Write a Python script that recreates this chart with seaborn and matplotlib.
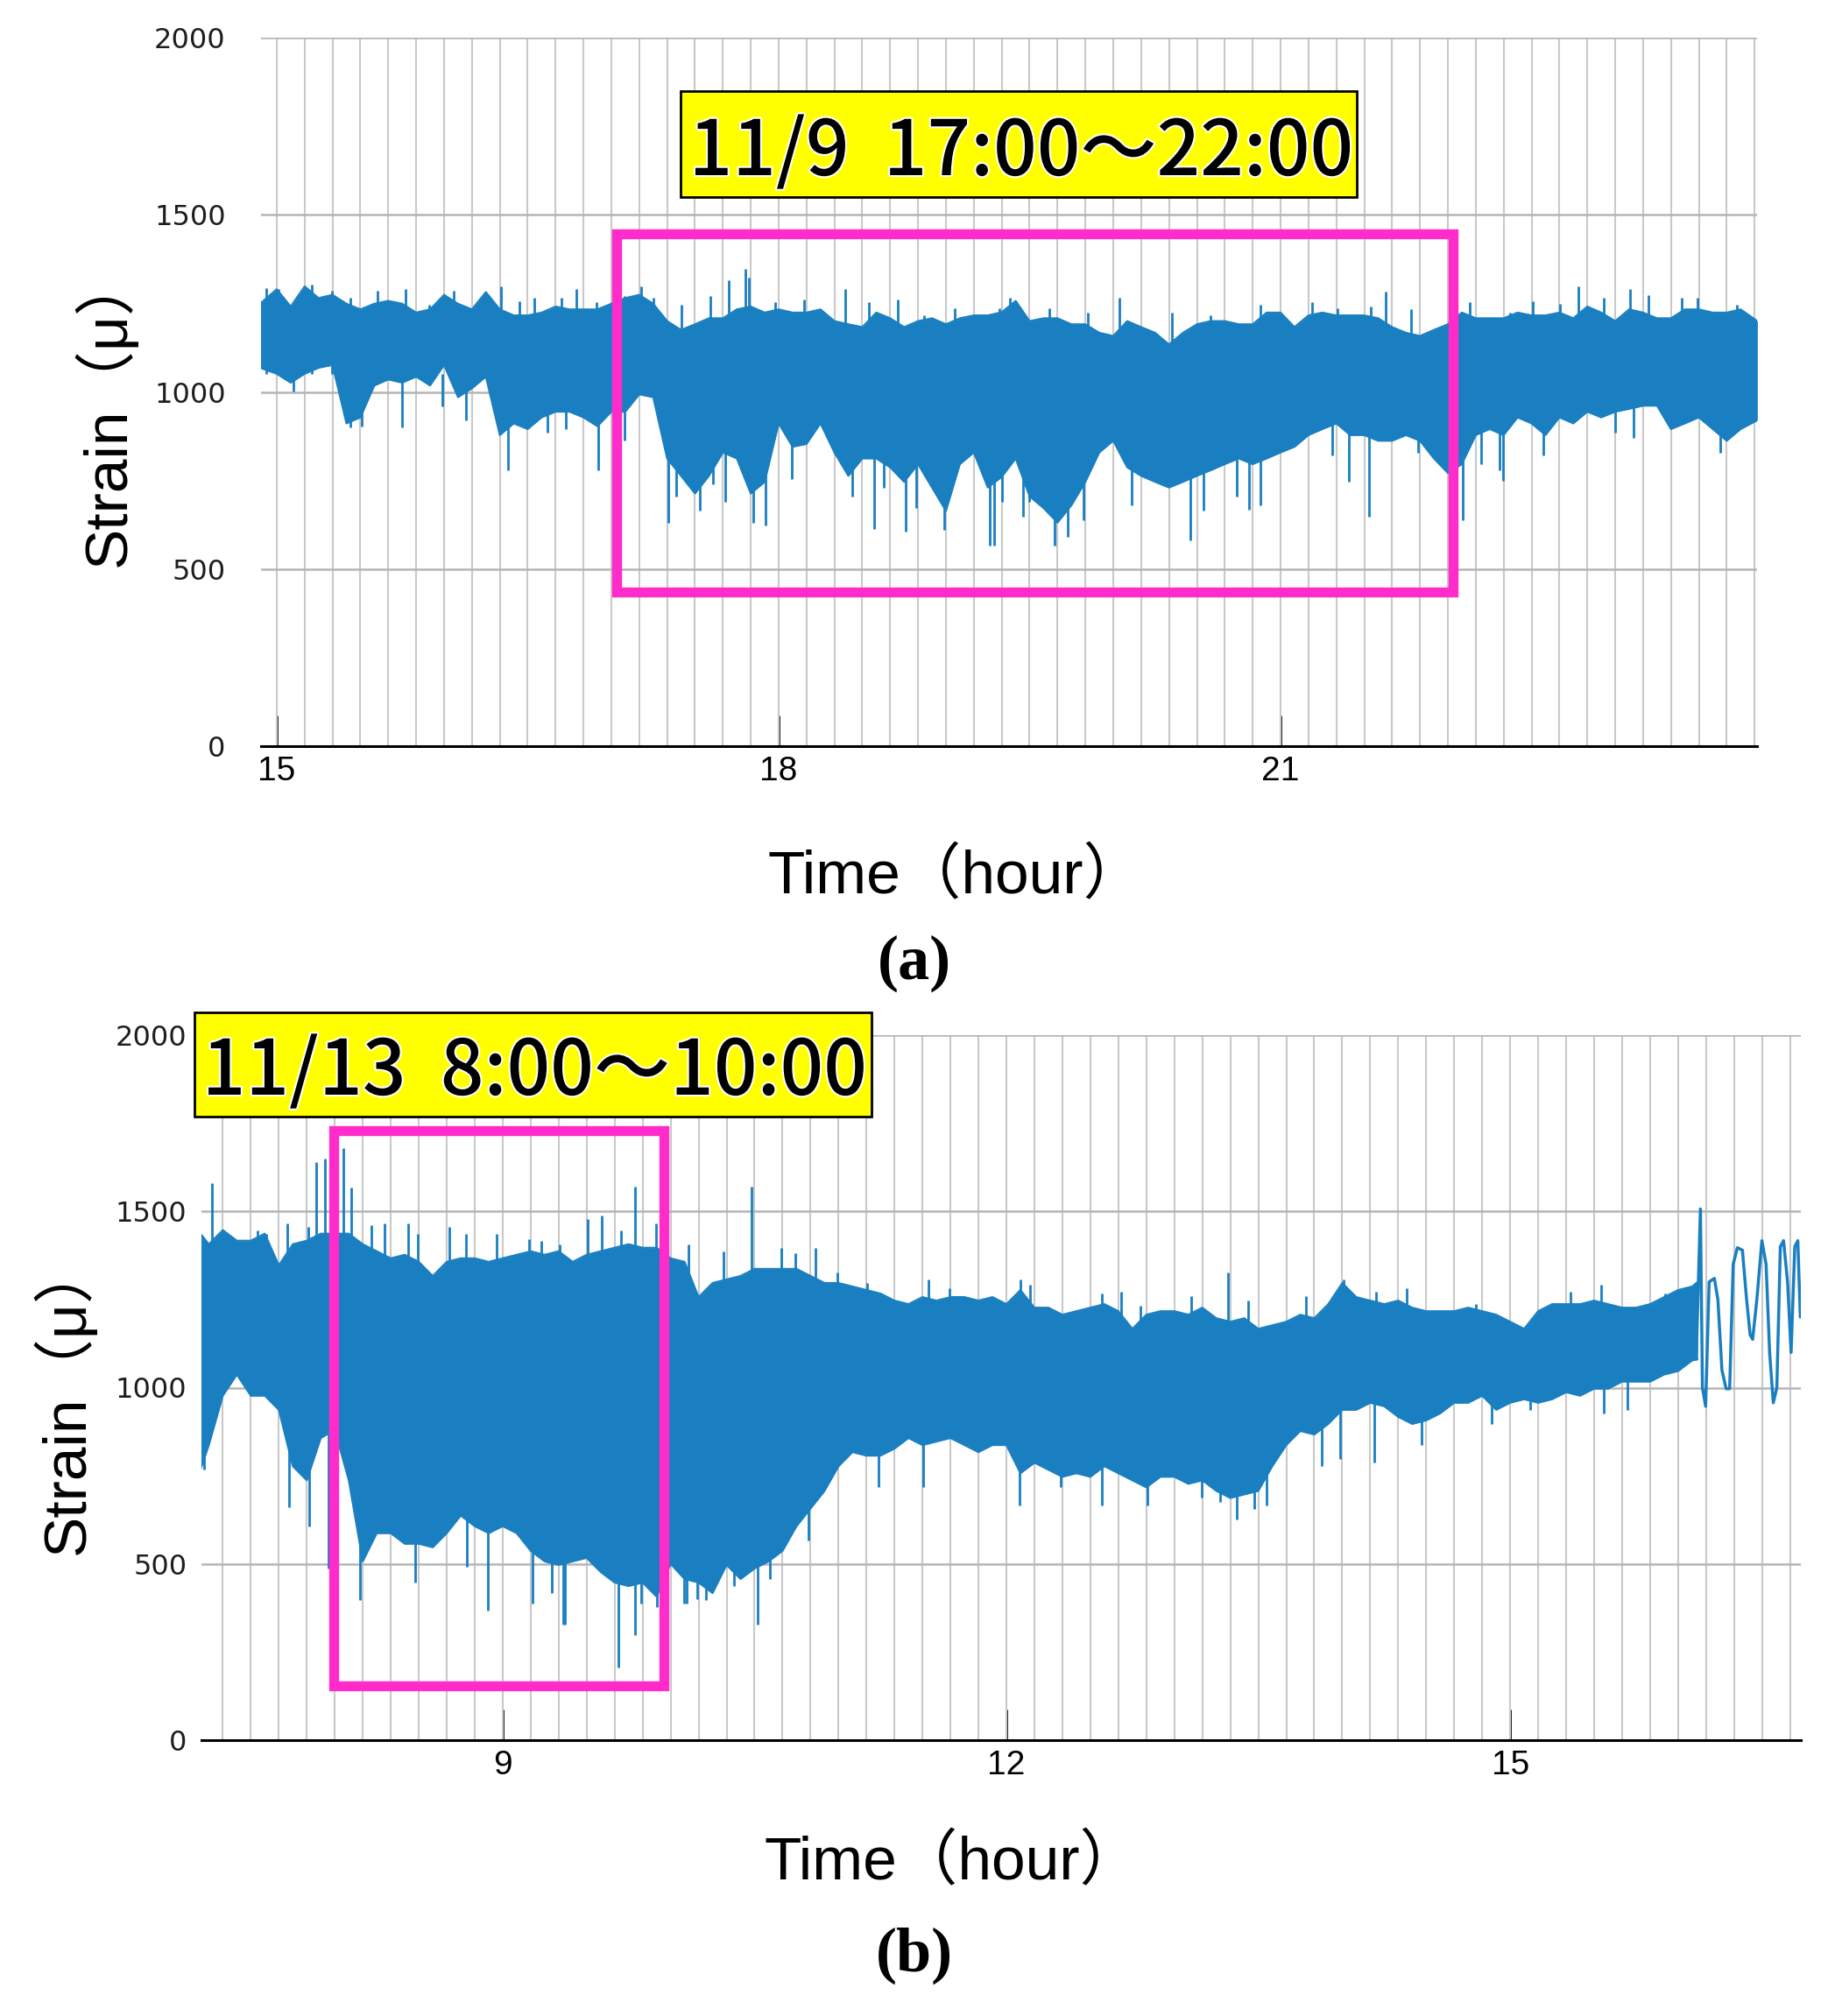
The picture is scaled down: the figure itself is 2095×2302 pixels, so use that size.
import matplotlib
matplotlib.use("Agg")
import numpy as np
import pandas as pd
import seaborn as sns
import matplotlib.pyplot as plt
from matplotlib.patches import Rectangle
import matplotlib.patheffects as pe

# ---------------- data ----------------
# Panel (a): 11/9, envelope of the strain record every 5 minutes
a_time = ["14:54", "15:00", "15:05", "15:10", "15:15", "15:20", "15:25", "15:30", "15:35", "15:40",
          "15:45", "15:50", "15:55", "16:00", "16:05", "16:10", "16:15", "16:20", "16:25", "16:30",
          "16:35", "16:40", "16:45", "16:50", "16:55", "17:00", "17:05", "17:10", "17:15", "17:20",
          "17:25", "17:30", "17:35", "17:40", "17:45", "17:50", "17:55", "18:00", "18:05", "18:10",
          "18:15", "18:20", "18:25", "18:30", "18:35", "18:40", "18:45", "18:50", "18:55", "19:00",
          "19:05", "19:10", "19:15", "19:20", "19:25", "19:30", "19:35", "19:40", "19:45", "19:50",
          "19:55", "20:00", "20:05", "20:10", "20:15", "20:20", "20:25", "20:30", "20:35", "20:40",
          "20:45", "20:50", "20:55", "21:00", "21:05", "21:10", "21:15", "21:20", "21:25", "21:30",
          "21:35", "21:40", "21:45", "21:50", "21:55", "22:00", "22:05", "22:10", "22:15", "22:20",
          "22:25", "22:30", "22:35", "22:40", "22:45", "22:50", "22:55", "23:00", "23:05", "23:10",
          "23:15", "23:20", "23:25", "23:30", "23:35", "23:40", "23:45", "23:51"]
a_upper = [1249, 1290, 1241, 1298, 1265, 1274, 1249, 1233, 1249, 1257,
           1249, 1224, 1233, 1274, 1249, 1233, 1282, 1233, 1216, 1216,
           1224, 1241, 1233, 1233, 1233, 1249, 1265, 1274, 1249, 1200,
           1175, 1191, 1208, 1208, 1233, 1241, 1224, 1233, 1224, 1224,
           1233, 1200, 1191, 1183, 1224, 1208, 1183, 1200, 1208, 1191,
           1208, 1216, 1216, 1225, 1257, 1200, 1208, 1208, 1191, 1191,
           1167, 1158, 1200, 1183, 1167, 1134, 1167, 1191, 1200, 1200,
           1191, 1191, 1224, 1224, 1183, 1216, 1224, 1216, 1216, 1216,
           1208, 1183, 1167, 1158, 1175, 1191, 1224, 1208, 1208, 1208,
           1224, 1216, 1216, 1224, 1208, 1241, 1224, 1200, 1233, 1224,
           1208, 1208, 1233, 1233, 1224, 1224, 1233, 1200]
a_lower = [1068, 1051, 1026, 1051, 1068, 1076, 911, 928, 1018, 1035,
           1026, 1043, 1018, 1076, 985, 1010, 1043, 878, 911, 895,
           928, 944, 944, 928, 903, 944, 944, 993, 985, 812,
           763, 713, 763, 829, 812, 713, 746, 911, 845, 853,
           911, 829, 763, 812, 812, 787, 746, 796, 730, 664,
           796, 829, 730, 760, 812, 705, 672, 631, 680, 746,
           829, 862, 787, 763, 746, 730, 746, 763, 779, 796,
           812, 796, 812, 829, 845, 878, 895, 911, 878, 878,
           862, 862, 878, 862, 812, 771, 796, 878, 895, 878,
           928, 911, 878, 928, 911, 944, 928, 944, 952, 961,
           961, 895, 911, 928, 895, 862, 895, 920]
# individual peaks (hour, strain) sticking out of the band
a_peak_t = [15.21, 16.34, 16.79, 17.70, 17.80, 17.82, 18.40, 18.71, 19.38, 21.63, 22.78, 23.09, 23.40,
            14.94, 15.01, 15.33, 15.44, 15.60, 15.77, 15.91, 16.06, 16.45, 16.54, 16.70, 16.91,
            17.08, 17.18, 17.25, 17.42, 17.59, 17.98, 18.15, 18.54, 18.87, 19.05, 19.32,
            19.62, 19.85, 20.035, 20.35, 20.58, 20.88, 21.19, 21.34, 21.54, 21.78, 22.13, 22.37,
            22.51, 22.67, 22.93, 23.20, 23.49, 23.73]
a_peak_v = [1302, 1298, 1290, 1315, 1348, 1323, 1290, 1261, 1265, 1282, 1298, 1290, 1265,
            1294, 1290, 1286, 1265, 1286, 1290, 1245, 1286, 1257, 1265, 1265, 1253,
            1270, 1298, 1265, 1245, 1270, 1253, 1261, 1253, 1216, 1237, 1237,
            1237, 1224, 1265, 1224, 1216, 1245, 1253, 1237, 1241, 1233, 1253, 1224,
            1257, 1249, 1265, 1274, 1265, 1245]
a_dip_t = [15.44, 15.75, 16.38, 16.92, 17.34, 17.53, 17.85, 17.92, 18.57, 18.76, 18.99, 19.26, 19.29,
           19.46, 19.65, 19.73, 20.46, 20.81, 21.53, 22.09, 22.33,
           15.10, 15.41, 15.51, 15.99, 16.13, 16.62, 16.73, 17.08, 17.39, 17.61, 17.68, 18.08,
           18.44, 18.63, 18.82, 19.333, 19.50, 19.82, 20.11, 20.54, 20.74, 20.88, 21.31, 21.41,
           21.82, 22.20, 22.31, 22.57, 23.00, 23.11, 23.63]
a_dip_v = [900, 900, 779, 779, 631, 664, 631, 623, 614, 606, 610, 565, 565,
           647, 565, 590, 581, 667, 647, 639, 750,
           1002, 944, 903, 960, 919, 886, 895, 862, 705, 738, 689, 754,
           705, 730, 672, 689, 689, 639, 680, 664, 705, 680, 820, 746,
           829, 796, 779, 820, 886, 870, 829]

# Panel (b): 11/13, envelope of the strain record every 5 minutes
b_time = ["7:12", "7:15", "7:20", "7:25", "7:30", "7:35", "7:40", "7:45", "7:50", "7:55",
          "8:00", "8:05", "8:10", "8:15", "8:20", "8:25", "8:30", "8:35", "8:40", "8:45",
          "8:50", "8:55", "9:00", "9:05", "9:10", "9:15", "9:20", "9:25", "9:30", "9:35",
          "9:40", "9:45", "9:50", "9:55", "10:00", "10:05", "10:10", "10:15", "10:20", "10:25",
          "10:30", "10:35", "10:40", "10:45", "10:50", "10:55", "11:00", "11:05", "11:10", "11:15",
          "11:20", "11:25", "11:30", "11:35", "11:40", "11:45", "11:50", "11:55", "12:00", "12:05",
          "12:10", "12:15", "12:20", "12:25", "12:30", "12:35", "12:40", "12:45", "12:50", "12:55",
          "13:00", "13:05", "13:10", "13:15", "13:20", "13:25", "13:30", "13:35", "13:40", "13:45",
          "13:50", "13:55", "14:00", "14:05", "14:10", "14:15", "14:20", "14:25", "14:30", "14:35",
          "14:40", "14:45", "14:50", "14:55", "15:00", "15:05", "15:10", "15:15", "15:20", "15:25",
          "15:30", "15:35", "15:40", "15:45", "15:50", "15:55", "16:00", "16:05", "16:07"]
b_upper = [1437, 1407, 1447, 1417, 1417, 1437, 1347, 1407, 1417, 1437,
           1437, 1437, 1407, 1387, 1367, 1377, 1357, 1317, 1357, 1367,
           1367, 1357, 1367, 1377, 1387, 1377, 1387, 1357, 1377, 1387,
           1397, 1407, 1397, 1397, 1367, 1357, 1257, 1297, 1307, 1317,
           1337, 1337, 1337, 1337, 1317, 1297, 1297, 1287, 1277, 1267,
           1247, 1237, 1257, 1247, 1257, 1257, 1247, 1257, 1237, 1277,
           1227, 1227, 1207, 1217, 1227, 1237, 1217, 1167, 1207, 1217,
           1217, 1207, 1227, 1197, 1187, 1197, 1167, 1177, 1187, 1207,
           1197, 1237, 1297, 1257, 1247, 1237, 1247, 1227, 1217, 1217,
           1217, 1227, 1217, 1207, 1187, 1167, 1217, 1237, 1237, 1237,
           1247, 1237, 1227, 1227, 1237, 1257, 1277, 1287, 1300]
b_lower = [767, 837, 977, 1037, 977, 977, 937, 777, 737, 857,
           880, 737, 507, 587, 587, 557, 557, 547, 587, 637,
           607, 587, 607, 587, 537, 507, 497, 507, 517, 477,
           447, 437, 447, 407, 500, 457, 447, 417, 497, 457,
           487, 507, 537, 607, 657, 707, 777, 817, 807, 807,
           827, 857, 837, 847, 857, 837, 817, 837, 837, 757,
           787, 767, 747, 757, 747, 777, 757, 737, 717, 747,
           747, 727, 737, 707, 687, 697, 707, 777, 837, 877,
           867, 897, 937, 937, 957, 947, 917, 897, 907, 927,
           957, 957, 977, 937, 957, 967, 957, 967, 987, 977,
           997, 997, 1017, 1017, 1017, 1037, 1047, 1077, 1080]
b_peak_t = [7.27, 7.89, 7.94, 8.05, 8.10, 9.79, 10.48, 13.32, 14.01,
            7.339, 7.538, 7.593, 7.715, 7.843, 8.219, 8.295, 8.438, 8.496, 8.683, 8.783, 8.966,
            9.156, 9.232, 9.339, 9.507, 9.589, 9.705, 9.913, 10.108, 10.316, 10.661, 10.743,
            10.865, 10.993, 11.170, 11.537, 11.659,
            12.085, 12.14, 12.568, 12.684, 12.797, 13.102, 13.438, 13.783, 14.201, 14.384,
            14.796, 15.361, 15.544, 15.925]
b_peak_v = [1580, 1640, 1650, 1680, 1567, 1570, 1570, 1327, 1307,
            1447, 1447, 1437, 1467, 1457, 1462, 1467, 1467, 1437, 1457, 1437, 1437,
            1422, 1417, 1407, 1479, 1487, 1447, 1467, 1407, 1387, 1397, 1382,
            1397, 1327, 1297, 1307, 1282,
            1307, 1292, 1267, 1272, 1232, 1259, 1247, 1259, 1272, 1282,
            1237, 1272, 1292, 1267]
b_dip_t = [7.22, 7.73, 7.85, 7.96, 8.15, 8.48, 8.91, 9.18, 9.36, 9.69, 9.79, 10.08, 10.16, 10.52,
           12.08, 12.57, 12.84, 13.37, 13.55, 14.19, 14.47,
           8.255, 8.347, 8.637, 8.789, 9.201, 9.293, 9.369, 9.644, 9.827, 9.919, 10.096, 10.209,
           10.377, 10.590, 10.819, 10.957, 11.237, 11.506,
           12.324, 13.163, 13.27, 13.474, 13.88, 13.987, 14.888, 15.117, 15.559, 15.697]
b_dip_v = [767, 660, 607, 487, 397, 447, 367, 387, 327, 207, 297, 387, 400, 327,
           667, 667, 667, 627, 667, 787, 837,
           627, 647, 617, 492, 527, 417, 327, 497, 387, 377, 387, 397,
           437, 457, 567, 787, 717, 717,
           717, 687, 677, 657, 777, 797, 897, 937, 927, 937]
# Panel (b): single trace after about 16:06
b_osc_t = [16.109, 16.133, 16.145, 16.164, 16.185, 16.216, 16.237, 16.261, 16.286, 16.307,
           16.328, 16.353, 16.383, 16.408, 16.429, 16.444, 16.469, 16.499, 16.524, 16.545,
           16.567, 16.588, 16.609, 16.628, 16.652, 16.673, 16.695, 16.713, 16.728]
b_osc_v = [1100, 1507, 1000, 947, 1300, 1310, 1250, 1050, 997, 997,
           1350, 1397, 1390, 1250, 1150, 1137, 1250, 1417, 1350, 1100,
           957, 1000, 1400, 1417, 1300, 1100, 1400, 1417, 1200]

y_ticks = [0, 500, 1000, 1500, 2000]
y_ticklabels = ["0", "500", "1000", "1500", "2000"]
a_xticks = [15, 18, 21]
b_xticks = [9, 12, 15]
a_dark_hours = [16, 18, 20, 22]
b_dark_hours = [8, 10, 12, 14, 16]
a_box = (17.03, 22.03, 436, 1445)
b_box = (7.993, 9.962, 155, 1729)
a_label = "11/9  17:00～22:00"
b_label = "11/13  8:00～10:00"
x_label = "Time（hour）"
y_label = "Strain（μ）"

BLUE = "#1a7fc1"
PINK = "#ff2bcb"


def to_hours(labels):
    return [int(s.split(":")[0]) + int(s.split(":")[1]) / 60.0 for s in labels]


# ---------------- figure ----------------
sns.set_theme(style="white")
plt.rcParams["font.family"] = ["DejaVu Sans", "Noto Sans CJK JP"]
plt.rcParams["text.color"] = "black"
plt.rcParams["xtick.color"] = "black"
plt.rcParams["ytick.color"] = "black"
plt.rcParams["xtick.labelcolor"] = "black"
plt.rcParams["ytick.labelcolor"] = "black"

W, H = 2095, 2302
fig = plt.figure(figsize=(W / 100, H / 100), dpi=100)
fig.patch.set_facecolor("white")

ax_a = fig.add_axes([298 / W, 1 - 852 / H, 1708 / W, 809 / H])
ax_b = fig.add_axes([230 / W, 1 - 1987 / H, 1826 / W, 805 / H])


def style_axes(ax, xlim, xticks, dark_hours, ypad, first_grid):
    ax.set_facecolor("white")
    ax.set_xlim(*xlim)
    ax.set_ylim(0, 2000)
    ax.set_axisbelow(True)
    ax.xaxis.remove_overlapping_locs = False
    ax.set_xticks(xticks)
    ax.set_xticklabels([str(t) for t in xticks], fontsize=28, family="Liberation Sans",
                       color="black")
    minor = [first_grid + k / 6.0 for k in range(0, 80) if first_grid + k / 6.0 <= xlim[1]]
    ax.set_xticks(minor, minor=True)
    ax.set_yticks(y_ticks)
    ax.set_yticklabels(y_ticklabels, fontsize=23, family="DejaVu Sans", color="#1e1e1e")
    ax.grid(False)
    ax.xaxis.grid(True, which="minor", color="#c9c9c9", lw=1.5, zorder=0)
    ax.yaxis.grid(True, which="major", color="#b5b5b5", lw=1.8, zorder=0)
    for h in dark_hours:
        ax.axvline(h, color="#8f8f8f", lw=1.4, zorder=0.5)
    ax.tick_params(axis="x", which="major", direction="in", length=25, width=2,
                   color="black", pad=8, bottom=True)
    ax.tick_params(axis="x", which="minor", length=0)
    ax.tick_params(axis="y", length=0, pad=ypad)
    for s in ["left", "top", "right"]:
        ax.spines[s].set_visible(False)
    ax.spines["bottom"].set_color("black")
    ax.spines["bottom"].set_linewidth(2.2)
    ax.spines["bottom"].set_zorder(6)


def draw_series(ax, t_labels, up, lo, pk_t, pk_v, dp_t, dp_v):
    t = to_hours(t_labels)
    df = pd.DataFrame({"t": t, "upper": up, "lower": lo})
    ax.fill_between(df["t"], df["lower"], df["upper"], color=BLUE, lw=0, zorder=2)
    sns.lineplot(data=df, x="t", y="upper", ax=ax, color=BLUE, lw=1.5, zorder=2)
    sns.lineplot(data=df, x="t", y="lower", ax=ax, color=BLUE, lw=1.5, zorder=2)
    ax.vlines(pk_t, 1050, pk_v, color=BLUE, lw=2.0, zorder=2)
    ax.vlines(dp_t, 1050, dp_v, color=BLUE, lw=2.0, zorder=2)


style_axes(ax_a, (14.906, 23.848), a_xticks, a_dark_hours, 29, 15.0)
draw_series(ax_a, a_time, a_upper, a_lower, a_peak_t, a_peak_v, a_dip_t, a_dip_v)

style_axes(ax_b, (7.206, 16.731), b_xticks, b_dark_hours, 12, 7 + 20 / 60)
draw_series(ax_b, b_time, b_upper, b_lower, b_peak_t, b_peak_v, b_dip_t, b_dip_v)
osc = pd.DataFrame({"t": b_osc_t, "v": b_osc_v})
sns.lineplot(data=osc, x="t", y="v", ax=ax_b, color=BLUE, lw=2.5, sort=False,
             estimator=None, zorder=2)

for ax in (ax_a, ax_b):
    ax.set_xlabel("")
    ax.set_ylabel("")

# pink highlight boxes
for ax, (x0, x1, y0, y1) in ((ax_a, a_box), (ax_b, b_box)):
    ax.add_patch(Rectangle((x0, y0), x1 - x0, y1 - y0, fill=False, edgecolor=PINK,
                           lw=8.2, zorder=5, clip_on=False))


# yellow annotation boxes (figure pixel coordinates)
def px_rect(x0, y0, x1, y1, **kw):
    return Rectangle((x0 / W, 1 - y1 / H), (x1 - x0) / W, (y1 - y0) / H,
                     transform=fig.transFigure, **kw)


fig.add_artist(px_rect(777, 104, 1549, 225, facecolor="#ffff00", edgecolor="black",
                       lw=2.0, zorder=10))
fig.add_artist(px_rect(222, 1156, 995, 1275, facecolor="#ffff00", edgecolor="black",
                       lw=2.0, zorder=10))

lab_fam = ["Noto Sans CJK JP", "DejaVu Sans"]
ta = fig.text(1166 / W, 1 - 200 / H, a_label, fontsize=60, family=lab_fam, ha="center",
              va="baseline", color="black", zorder=11, weight="medium",
              path_effects=[pe.withStroke(linewidth=3, foreground="white")])
tb = fig.text(610.5 / W, 1 - 1250 / H, b_label, fontsize=60, family=lab_fam, ha="center",
              va="baseline", color="black", zorder=11, weight="medium",
              path_effects=[pe.withStroke(linewidth=3, foreground="white")])

fig.canvas.draw()
rend = fig.canvas.get_renderer()
for txt, target in ((ta, 758), (tb, 759)):
    w = txt.get_window_extent(rend).width
    txt.set_fontsize(txt.get_fontsize() * target / w)

# axis titles
ax_fam = ["Liberation Sans", "Noto Sans CJK JP"]
fig.text(1091 / W, 1 - 1001 / H, x_label, fontsize=50, family=ax_fam, ha="center",
         va="center", color="black")
fig.text(1087 / W, 1 - 2127 / H, x_label, fontsize=50, family=ax_fam, ha="center",
         va="center", color="black")
fig.text(121 / W, 1 - 467 / H, y_label, fontsize=50, family=ax_fam, rotation=90,
         ha="center", va="center", color="black")
fig.text(74 / W, 1 - 1595 / H, y_label, fontsize=50, family=ax_fam, rotation=90,
         ha="center", va="center", color="black")

# panel captions
fig.text(1044 / W, 1 - 1100 / H, "(a)", fontsize=52, family="Liberation Serif",
         weight="bold", ha="center", va="center", color="black")
fig.text(1044 / W, 1 - 2233 / H, "(b)", fontsize=52, family="Liberation Serif",
         weight="bold", ha="center", va="center", color="black")

fig.savefig("out.png", dpi=100, facecolor="white")
